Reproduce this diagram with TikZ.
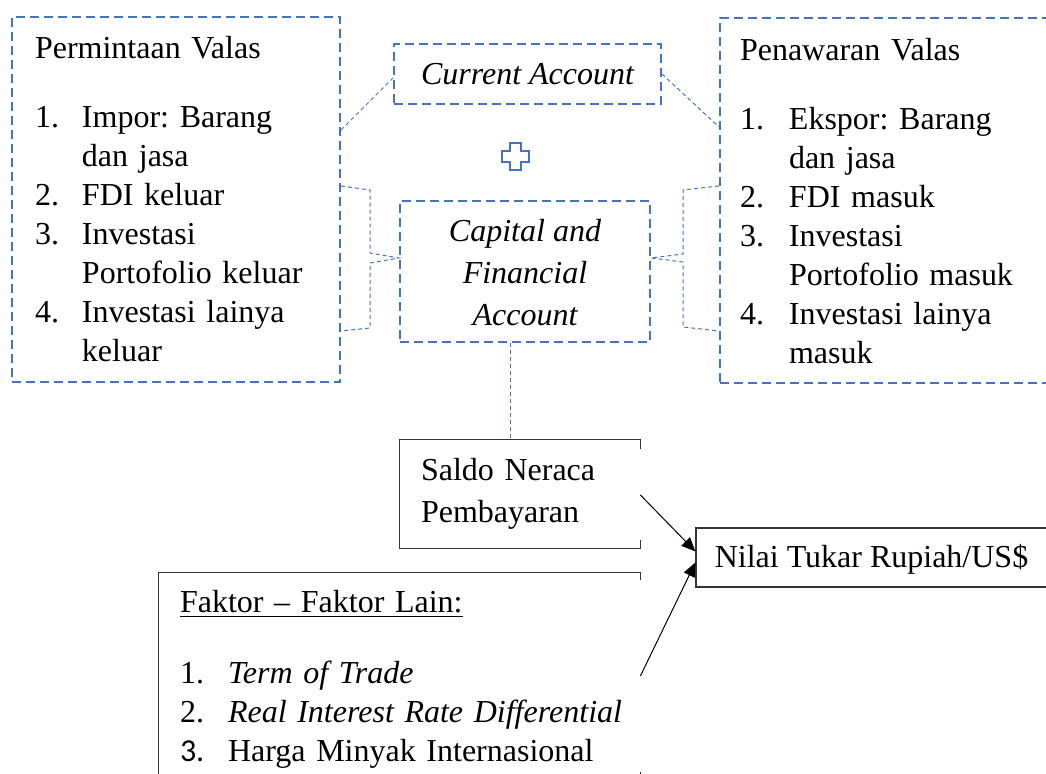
\documentclass[tikz,border=0pt]{standalone}
\usepackage{fontspec}
\setmainfont{Liberation Serif}
\setsansfont{Carlito}
\usetikzlibrary{arrows.meta}
\definecolor{LineClr}{HTML}{4472C4}
\newcommand\txt{\fontsize{16}{19.5}\selectfont\frenchspacing}

\begin{document}
\begin{tikzpicture}[x=0.5pt,y=-0.5pt,font=\txt,
  blueBox/.style={draw=LineClr,line width=1pt,dash pattern=on 4.5pt off 2.5pt},
  link/.style={draw=LineClr,line width=0.5pt,dash pattern=on 2pt off 1.5pt},
  edgeLine/.style={draw=black!80,line width=0.6pt},
  pointer/.style={draw=black,line width=0.5pt,-{Triangle[length=7pt,width=6pt]}}]
\path[use as bounding box,clip] (0,0) rectangle (1046,774);

\node[blueBox,text width=141pt,inner xsep=11.5pt,minimum height=182.5pt,align=left] (Dem) at (176,199.5) {%
\begin{tabular}{@{}p{23.5pt}@{}l@{}}
\multicolumn{2}{@{}l@{}}{\rule{0pt}{16.65pt}Permintaan Valas}\\[15pt]
1. & Impor: Barang\\
   & dan jasa\\
2. & FDI keluar\\
3. & Investasi\\
   & Portofolio keluar\\
4. & Investasi lainya\\
   & keluar
\end{tabular}};

\node[blueBox,text width=150pt,inner xsep=10pt,minimum height=182.5pt,align=left] (Sup) at (890,200.5) {%
\begin{tabular}{@{}p{24.5pt}@{}l@{}}
\multicolumn{2}{@{}l@{}}{\rule{0pt}{17.15pt}Penawaran Valas}\\[15pt]
1. & Ekspor: Barang\\
   & dan jasa\\
2. & FDI masuk\\
3. & Investasi\\
   & Portofolio masuk\\
4. & Investasi lainya\\
   & masuk
\end{tabular}};

\node[blueBox,minimum width=133.5pt,minimum height=30pt,text height=11.5pt,text depth=0.5pt,font=\txt\itshape] (CA) at (527.5,74) {Current Account};
\node[blueBox,minimum width=125pt,minimum height=70.5pt,text height=55pt,text depth=0.5pt,align=center,font=\fontsize{16}{21}\selectfont\itshape] (CFA) at (525,271.5) {Capital and\\Financial\\Account};

\draw[LineClr,line width=1pt] (510,143) -- (521,143) -- (521,151) -- (529,151) -- (529,162) -- (521,162) -- (521,170) -- (510,170) -- (510,162) -- (502,162) -- (502,151) -- (510,151) -- cycle;

\draw[link] (Dem.east |- 0,130) -- ([yshift=-2pt]CA.west);
\draw[link] (CA.east) -- (Sup.west |- 0,127);
\draw[link] (Dem.east |- 0,186) -- (370,190) -- (370,253) -- (CFA.west |- 0,258) -- (370,263) -- (370,328) -- (Dem.east |- 0,331);
\draw[link] (Sup.west |- 0,186) -- (683,190) -- (683,254) -- (CFA.east |- 0,258) -- (683,262) -- (683,327) -- (Sup.west |- 0,331);
\draw[link] (CFA.south -| 510,0) -- (510,440);

\node[text width=99pt,inner xsep=10.5pt,minimum height=54pt,align=left,font=\fontsize{16}{21.3}\selectfont] (BOP) at (520,494) {Saldo Neraca\\Pembayaran};
\draw[edgeLine] ([yshift=-4.5pt]BOP.north east) -- (BOP.north east) -- (BOP.north west) -- (BOP.south west) -- (BOP.south east) -- ([yshift=4pt]BOP.south east);

\node[text width=219.5pt,inner xsep=10.5pt,minimum height=102.5pt,align=left] (Oth) at (399.5,676.5) {%
\begin{tabular}{@{}p{24pt}@{}l@{}}
\multicolumn{2}{@{}l@{}}{\rule{0pt}{16.65pt}\underline{Faktor -- Faktor Lain:}}\\[16pt]
1. & \textit{Term of Trade}\\
2. & \textit{Real Interest Rate Differential}\\
{\sffamily 3.} & Harga Minyak Internasional
\end{tabular}};
\draw[edgeLine] ([yshift=-4pt]Oth.north east) -- (Oth.north east) -- (Oth.north west) -- (Oth.south west) -- (Oth.south east) -- ([yshift=4.5pt]Oth.south east);

\node[edgeLine,minimum width=175.5pt,minimum height=29.5pt,text height=11pt,text depth=0.5pt] (Kurs) at (871.5,557.5) {Nilai Tukar Rupiah/US\$};

\draw[pointer] (BOP.east |- 0,495) -- ([yshift=3pt]Kurs.west);
\draw[pointer] (Oth.east |- 0,676) -- ([yshift=-2.5pt]Kurs.west);

\end{tikzpicture}
\end{document}
